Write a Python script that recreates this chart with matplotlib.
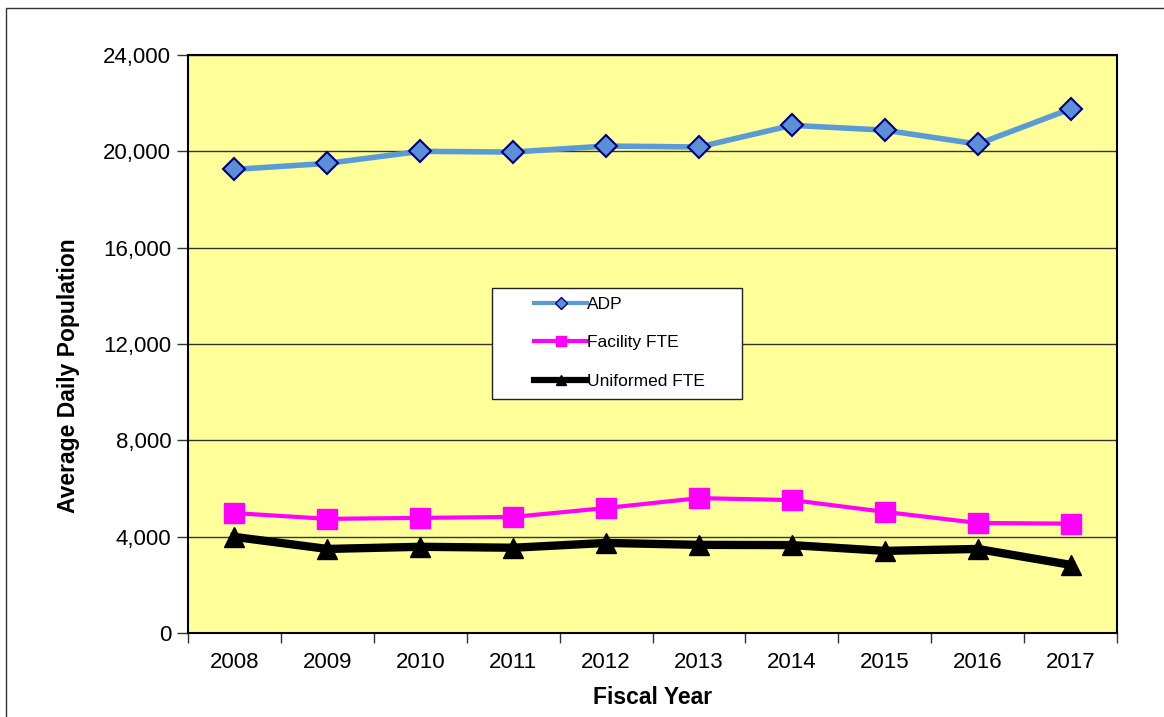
import numpy as np
import matplotlib
matplotlib.use("Agg")
from matplotlib import pyplot as plt
from matplotlib.lines import Line2D
from matplotlib.patches import Rectangle
from matplotlib.ticker import FuncFormatter

plt.rcParams['font.family'] = ['Liberation Sans', 'DejaVu Sans']

years = ['2008', '2009', '2010', '2011', '2012', '2013', '2014', '2015', '2016', '2017']
adp = [19250, 19500, 20000, 19970, 20220, 20180, 21080, 20880, 20300, 21760]
facility_fte = [4980, 4740, 4780, 4820, 5190, 5600, 5520, 5030, 4570, 4540]
uniformed_fte = [3990, 3490, 3580, 3540, 3740, 3660, 3650, 3410, 3490, 2830]

fig = plt.figure(figsize=(11.64, 7.17), dpi=100)
ax = fig.add_axes([188/1164, 1 - 633/717, 929/1164, 578/717])
ax.set_facecolor('#FFFF99')

x = np.arange(len(years))
ax.plot(x, adp, '-', color='#5B9BD5', lw=4, marker='D', ms=11,
        mfc='#5B8FD8', mec='#000080', mew=1.5, zorder=4)
ax.plot(x, facility_fte, '-', color='#FF00FF', lw=3, marker='s', ms=14,
        mfc='#FF00FF', mec='#FF00FF', zorder=4)
ax.plot(x, uniformed_fte, '-', color='black', lw=6, marker='^', ms=15,
        mfc='black', mec='black', zorder=4)

ax.set_xlim(-0.5, len(years) - 0.5)
ax.set_ylim(0, 24000)
ax.set_yticks(np.arange(0, 24001, 4000))
ax.yaxis.set_major_formatter(FuncFormatter(lambda v, p: f'{int(v):,}'))
ax.grid(axis='y', color='#333333', lw=1, zorder=1)
ax.set_axisbelow(True)

# category ticks between years, labels at the centres
ax.set_xticks(np.arange(-0.5, len(years), 1.0))
ax.set_xticklabels([])
ax.set_xticks(x, minor=True)
ax.set_xticklabels(years, minor=True)
ax.tick_params(axis='x', which='major', length=7, width=1, color='#333333')
ax.tick_params(axis='x', which='minor', length=0, pad=14, labelsize=16)
ax.tick_params(axis='y', length=8, width=1, color='#333333', pad=4, labelsize=16)

for s in ax.spines.values():
    s.set_linewidth(1.5)
    s.set_color('black')

ax.set_xlabel('Fiscal Year', fontsize=16.5, fontweight='bold', labelpad=9)
ax.set_ylabel('Average Daily Population', fontsize=16.5, fontweight='bold')
ax.yaxis.set_label_coords((80 - 188) / 929, 0.445)

# legend box
lx0, lx1 = (492-188)/929, (742-188)/929
ly0, ly1 = (633-399)/578, (633-288)/578
ax.add_patch(Rectangle((lx0, ly0), lx1 - lx0, ly1 - ly0, transform=ax.transAxes,
                       facecolor='white', edgecolor='#222222', lw=1, zorder=5))
handles = [
    Line2D([], [], color='#5B9BD5', lw=3, marker='D', ms=6, mfc='#5B8FD8', mec='#000080'),
    Line2D([], [], color='#FF00FF', lw=3, marker='s', ms=7, mfc='#FF00FF', mec='#FF00FF'),
    Line2D([], [], color='black', lw=4.5, marker='^', ms=7, mfc='black', mec='black'),
]
leg = ax.legend(handles, ['ADP', 'Facility FTE', 'Uniformed FTE'],
                loc='upper left', bbox_to_anchor=((530-188)/929 - 0.012, (633-281)/578),
                frameon=False, fontsize=12.5, handlelength=3.0, handletextpad=0.0,
                labelspacing=1.35)
leg.set_zorder(6)

# outer frame of the picture
fig.patches.append(Rectangle((6/1164, -0.1), 1.2, 1 - 8/717 + 0.1, transform=fig.transFigure,
                             facecolor='none', edgecolor='#333333', lw=1))

fig.savefig('out.png', dpi=100)
